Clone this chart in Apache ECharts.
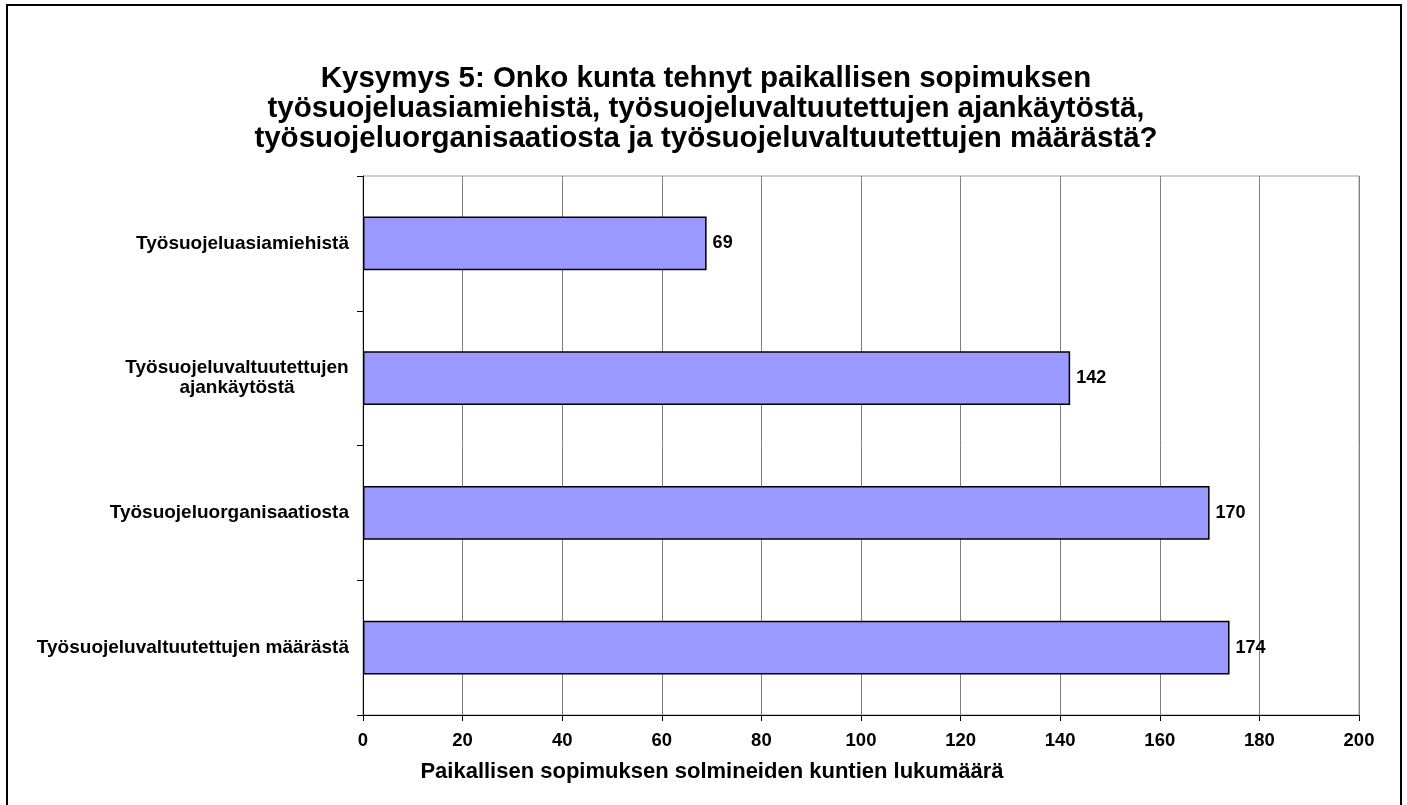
<!DOCTYPE html>
<html>
<head>
<meta charset="utf-8">
<script src="https://cdn.jsdelivr.net/npm/echarts@6/dist/echarts.min.js"></script>
<style>
  html, body { margin: 0; padding: 0; background: #fff; }
  #main { width: 1407px; height: 805px; }
</style>
</head>
<body>
<div id="main"></div>
<script>
// kategoriat ylhäältä alas
var categories = [
  'Työsuojeluasiamiehistä',
  'Työsuojeluvaltuutettujen\najankäytöstä',
  'Työsuojeluorganisaatiosta',
  'Työsuojeluvaltuutettujen määrästä'
];
var counts = [69, 142, 170, 174];
var xTicks = [0, 20, 40, 60, 80, 100, 120, 140, 160, 180, 200];

var titleText = 'Kysymys 5: Onko kunta tehnyt paikallisen sopimuksen\n' +
  'työsuojeluasiamiehistä, työsuojeluvaltuutettujen ajankäytöstä,\n' +
  'työsuojeluorganisaatiosta ja työsuojeluvaltuutettujen määrästä?';
var axisTitle = 'Paikallisen sopimuksen solmineiden kuntien lukumäärä';

var font = '"Liberation Sans", Arial, sans-serif';
var catSize = 19;

// leveimmän rivin leveys, jotta kaksiriviset nimet voi keskittää
var ctx = document.createElement('canvas').getContext('2d');
ctx.font = 'bold ' + catSize + 'px ' + font;
function blockWidth(s) {
  return Math.ceil(Math.max.apply(null, s.split('\n').map(function (l) { return ctx.measureText(l).width; })));
}

var chart = echarts.init(document.getElementById('main'));
var option = {
  animation: false,
  backgroundColor: '#fff',
  textStyle: { fontFamily: font },
  title: [
    {
      text: titleText,
      left: 701,
      top: 59,
      textAlign: 'center',
      textStyle: {
        fontFamily: font,
        fontSize: 29.5,
        fontWeight: 'bold',
        color: '#000',
        lineHeight: 30,
        align: 'center'
      }
    },
    {
      // x-akselin nimi on keskitetty koko kuvaan, ei piirtoalueeseen
      text: axisTitle,
      left: 707,
      top: 756,
      textAlign: 'center',
      textStyle: {
        fontFamily: font,
        fontSize: 22,
        fontWeight: 'bold',
        color: '#000',
        lineHeight: 22
      }
    }
  ],
  graphic: [
    {
      type: 'rect',
      shape: { x: 7, y: 5, width: 1394, height: 810 },
      style: { fill: 'none', stroke: '#000', lineWidth: 2 },
      silent: true,
      z: 100
    }
  ],
  grid: {
    left: 363,
    right: 48,
    top: 176,
    bottom: 90,
    show: true,
    borderColor: '#999',
    borderWidth: 1
  },
  xAxis: {
    type: 'value',
    min: 0,
    max: 200,
    interval: 20,
    axisLine: { show: true, lineStyle: { color: '#000', width: 1 } },
    axisTick: { show: true, length: 6, lineStyle: { color: '#000' } },
    axisLabel: {
      margin: 16,
      fontFamily: font,
      fontSize: 18.5,
      fontWeight: 'bold',
      color: '#000',
      formatter: function (v) { return xTicks.indexOf(v) >= 0 ? String(v) : ''; }
    },
    splitLine: { show: true, lineStyle: { color: '#808080', width: 1 } }
  },
  yAxis: {
    type: 'category',
    inverse: true,
    data: categories,
    axisLine: { show: true, onZero: false, lineStyle: { color: '#000', width: 1 } },
    axisTick: { show: true, length: 6, lineStyle: { color: '#000' } },
    axisLabel: {
      margin: 14,
      fontFamily: font,
      fontSize: catSize,
      fontWeight: 'bold',
      color: '#000',
      lineHeight: 20,
      formatter: function (v) {
        if (v.indexOf('\n') < 0) return v;
        return v.split('\n').map(function (l) { return '{c|' + l + '}'; }).join('\n');
      },
      rich: {
        c: {
          width: blockWidth(categories[1]),
          align: 'center',
          fontFamily: font,
          fontSize: catSize,
          fontWeight: 'bold',
          color: '#000',
          lineHeight: 20
        }
      }
    },
    splitLine: { show: false }
  },
  series: [
    {
      type: 'bar',
      data: counts,
      barWidth: '40%',
      itemStyle: { color: '#9999ff', borderColor: '#000', borderWidth: 1.5 },
      label: {
        show: true,
        position: 'right',
        distance: 6,
        fontFamily: font,
        fontSize: 18,
        fontWeight: 'bold',
        color: '#000'
      }
    }
  ]
};
chart.setOption(option);
</script>
</body>
</html>
